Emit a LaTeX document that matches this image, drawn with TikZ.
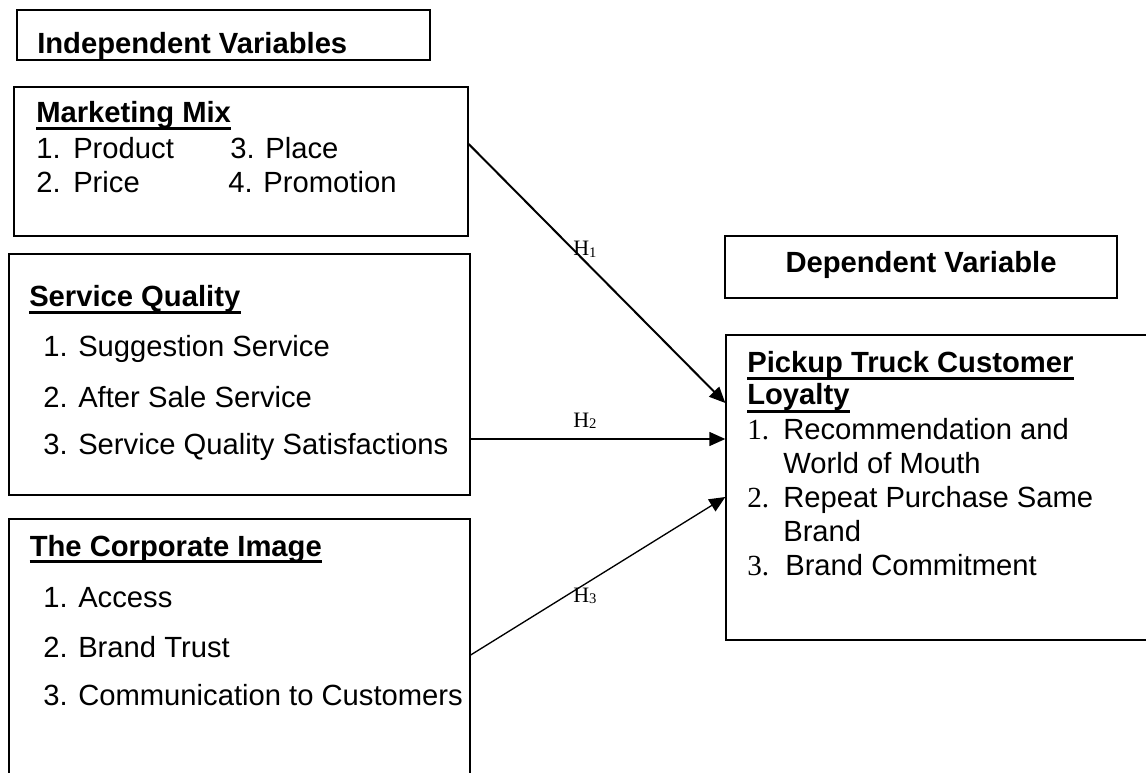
\documentclass[tikz,border=0pt]{standalone}
\usepackage{fontspec}
\setmainfont{Liberation Sans}
\newfontfamily\tnr{Liberation Serif}
\usetikzlibrary{arrows.meta,fit}
\begin{document}
\begin{tikzpicture}[x=0.75pt,y=-0.75pt,
  box/.style={draw, line width=1pt, inner sep=0pt},
  txt/.style={anchor=base west, inner sep=0pt, font=\fontsize{21.9}{26}\selectfont},
  ttl/.style={anchor=base west, inner sep=0pt, font=\fontsize{21.9}{26}\selectfont\bfseries},
  num/.style={anchor=base west, inner sep=0pt, font=\fontsize{21.9}{26}\selectfont\tnr},
  hl/.style={anchor=base west, inner sep=0pt, font=\fontsize{16.5}{18}\selectfont\tnr},
  ul/.style={line width=2.4pt},
  arr/.style={-{Triangle[length=12pt,width=10.5pt]}, line width=1pt}]
\useasboundingbox (0,0) rectangle (1146,773);
\clip (0,0) rectangle (1146,773);

% boxes
\node[box, fit={(17,10) (430,60)}] (ivbox) {};
\node[box, fit={(14,87) (468,236)}] (mmbox) {};
\node[box, fit={(9,254) (470,495)}] (sqbox) {};
\node[box, fit={(9,519) (470,800)}] (cibox) {};
\node[box, fit={(725,236) (1117,298)}] (dvbox) {};
\node[box, fit={(726,335) (1170,640)}] (ptbox) {};

% Independent Variables
\node[ttl] (iv) at (37,54) {Independent Variables};

% Marketing Mix
\node[ttl] (mm) at (36,123) {Marketing Mix};
\draw[ul] ([yshift=-3.9pt]mm.base west) -- ([yshift=-3.9pt]mm.base east);
\node[txt] (mm1n) at (36,159) {1.};
\node[txt] (mm1) at (73,159) {Product};
\node[txt] (mm2n) at (36,193) {2.};
\node[txt] (mm2) at (73,193) {Price};
\node[txt] (mm3) at (230,159) {3. Place};
\node[txt] (mm4) at (228,193) {4. Promotion};

% Service Quality
\node[ttl] (sq) at (29,307) {Service Quality};
\draw[ul] ([yshift=-3.9pt]sq.base west) -- ([yshift=-3.9pt]sq.base east);
\node[txt] (sq1n) at (43,357) {1.};
\node[txt] (sq1) at (78,357) {Suggestion Service};
\node[txt] (sq2n) at (43,407) {2.};
\node[txt] (sq2) at (78,407) {After Sale Service};
\node[txt] (sq3n) at (43,455) {3.};
\node[txt] (sq3) at (78,455) {Service Quality Satisfactions};

% Corporate Image
\node[ttl] (ci) at (29.5,556) {The Corporate Image};
\draw[ul] ([yshift=-3.9pt]ci.base west) -- ([yshift=-3.9pt]ci.base east);
\node[txt] (ci1n) at (43,607) {1.};
\node[txt] (ci1) at (78,607) {Access};
\node[txt] (ci2n) at (43,657) {2.};
\node[txt] (ci2) at (78,657) {Brand Trust};
\node[txt] (ci3n) at (43,705) {3.};
\node[txt] (ci3) at (78,705) {Communication to Customers};

% Dependent Variable
\node[ttl, anchor=base] (dv) at (921,273) {Dependent Variable};

% Pickup Truck Customer Loyalty
\node[ttl] (pt1) at (747,373) {Pickup Truck Customer};
\draw[ul] ([yshift=-3.9pt]pt1.base west) -- ([yshift=-3.9pt]pt1.base east);
\node[ttl] (pt2) at (747,405) {Loyalty};
\draw[ul] ([yshift=-4.6pt]pt2.base west) -- ([yshift=-4.6pt]pt2.base east);
\node[num] (pt1n) at (747,440) {1.};
\node[txt] (pti1a) at (783,440) {Recommendation and};
\node[txt] (pti1b) at (783,474) {World of Mouth};
\node[num] (pt2n) at (747,508) {2.};
\node[txt] (pti2a) at (783,508) {Repeat Purchase Same};
\node[txt] (pti2b) at (783,541) {Brand};
\node[num] (pt3n) at (747,575) {3.};
\node[txt] (pti3) at (785,575) {Brand Commitment};

% connectors
\draw[arr, line width=1.5pt] (mmbox.east |- 0,144) -- (ptbox.west |- 0,403);
\draw[arr] (sqbox.east |- 0,439) -- (ptbox.west |- 0,439);
\draw[arr] (cibox.east |- 0,655) -- (ptbox.west |- 0,497);

% hypothesis labels
\node[hl] (h1) at (573,256) {H\raisebox{-0.8pt}{\fontsize{11}{12}\selectfont 1}};
\node[hl] (h2) at (573,427) {H\raisebox{-0.8pt}{\fontsize{11}{12}\selectfont 2}};
\node[hl] (h3) at (573,602) {H\raisebox{-0.8pt}{\fontsize{11}{12}\selectfont 3}};
\end{tikzpicture}
\end{document}
